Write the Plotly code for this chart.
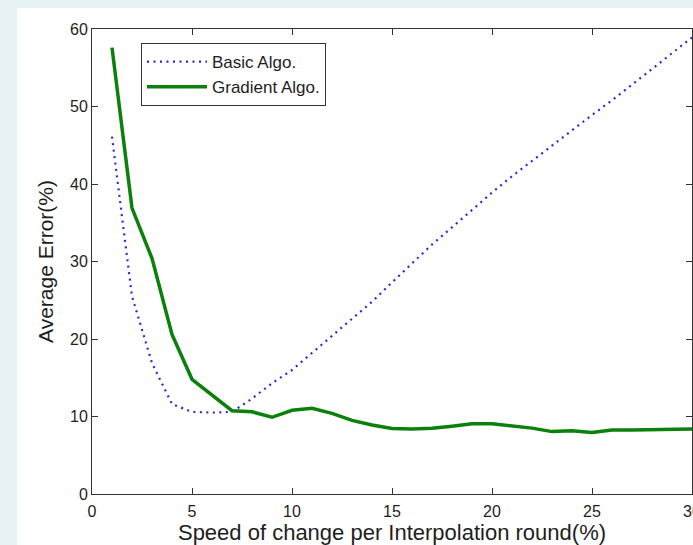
import plotly.graph_objects as go

# Data
x_vals = list(range(1, 31))
basic_algo = [46.1, 25.5, 16.9, 11.6, 10.6, 10.5, 10.6, 12.3, 14.3, 16.0,
              18.2, 20.4, 22.5, 24.8, 27.3, 29.8, 32.2, 34.4, 36.7, 38.9,
              41.0, 43.0, 44.9, 46.9, 48.9, 50.8, 52.8, 54.8, 56.8, 58.9]
gradient_algo = [57.6, 36.9, 30.4, 20.6, 14.8, 12.8, 10.75, 10.6, 9.9, 10.8,
                 11.05, 10.4, 9.5, 8.9, 8.45, 8.4, 8.5, 8.75, 9.05, 9.05,
                 8.8, 8.5, 8.05, 8.15, 7.95, 8.25, 8.25, 8.3, 8.35, 8.4]
series_names = ["Basic Algo.", "Gradient Algo."]
x_ticks = [0, 5, 10, 15, 20, 25, 30]
y_ticks = [0, 10, 20, 30, 40, 50, 60]

FONT = "Liberation Sans, Arial, Helvetica, sans-serif"
TXT = "#1e1e1e"

fig = go.Figure()
fig.add_trace(go.Scatter(
    x=x_vals, y=basic_algo, mode="lines", name=series_names[0],
    line=dict(color="#2a2ad6", width=2.2, dash="2px,4.5px"),
))
fig.add_trace(go.Scatter(
    x=x_vals, y=gradient_algo, mode="lines", name=series_names[1],
    line=dict(color="#0b800b", width=3.5),
))

# page backdrop strips (light blue-grey at left and top)
L, R, T, B = 92, 692, 29, 494
W, H = R - L, B - T
def px(xp):
    return (xp - L) / W
def py(yp):
    return (B - yp) / H
bg = "#e7f2f4"
fig.add_shape(type="rect", xref="paper", yref="paper", layer="below",
              x0=px(0), x1=px(17), y0=py(545), y1=py(0),
              fillcolor=bg, line_width=0)
fig.add_shape(type="rect", xref="paper", yref="paper", layer="below",
              x0=px(0), x1=px(693), y0=py(8), y1=py(0),
              fillcolor=bg, line_width=0)

axis_common = dict(
    showline=True, linecolor="#333333", linewidth=1, mirror="ticks",
    ticks="inside", ticklen=6, tickwidth=1, tickcolor="#333333",
    showgrid=False, zeroline=False, ticklabeloverflow="allow",
    automargin=False,
    tickfont=dict(family=FONT, size=16, color=TXT),
)

fig.update_layout(
    width=693, height=545,
    margin=dict(l=L, r=693 - R, t=T, b=545 - B),
    paper_bgcolor="white", plot_bgcolor="white",
    font=dict(family=FONT, color=TXT),
    xaxis=dict(range=[0, 30], tickvals=x_ticks, ticklabelstandoff=3,
               title=dict(text="Speed of change per Interpolation round(%)",
                          font=dict(family=FONT, size=22, color=TXT),
                          standoff=3),
               **axis_common),
    yaxis=dict(range=[0, 60], tickvals=y_ticks,
               title=dict(text="Average Error(%)",
                          font=dict(family=FONT, size=21, color=TXT),
                          standoff=10),
               **axis_common),
    legend=dict(x=px(141), y=py(43), xanchor="left", yanchor="top",
                bgcolor="white", bordercolor="#333333", borderwidth=1,
                font=dict(family=FONT, size=17, color=TXT),
                itemwidth=60, tracegroupgap=0),
    showlegend=True,
)

fig.write_html("out.html")
